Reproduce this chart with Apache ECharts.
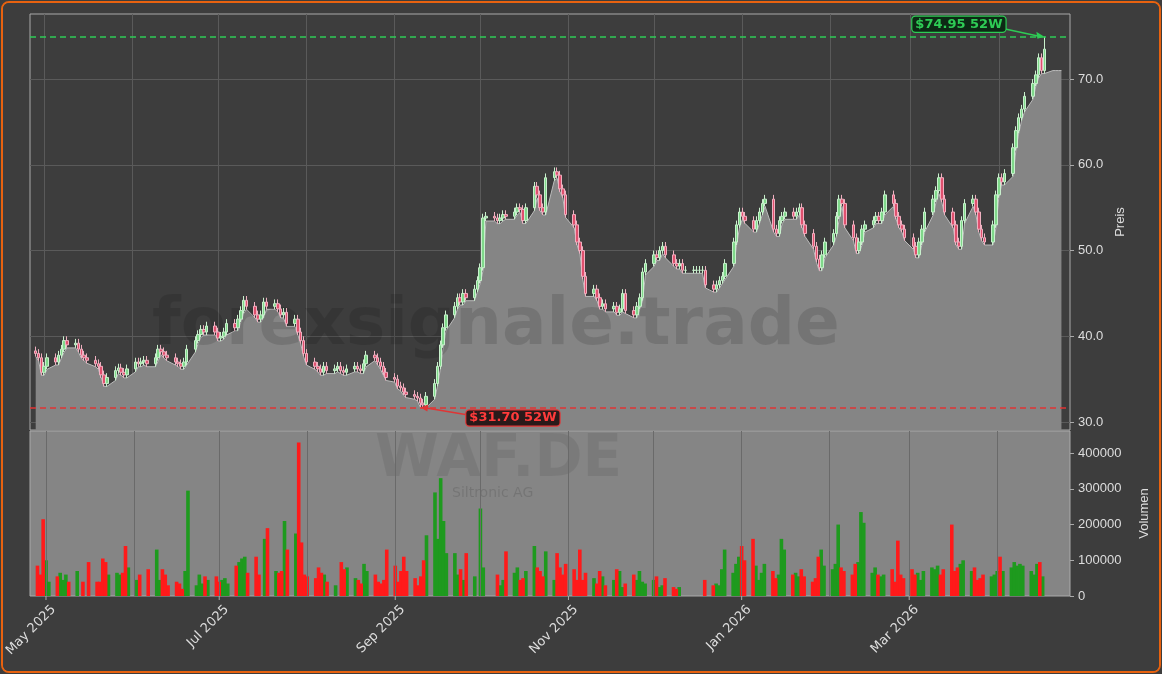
<!DOCTYPE html>
<html><head><meta charset="utf-8">
<script src="https://cdn.jsdelivr.net/npm/echarts@6/dist/echarts.min.js"></script>
<style>html,body{margin:0;padding:0;background:#3d3d3d}
#c{position:absolute;left:1px;top:1px;width:1160px;height:672px;border:2px solid #e8620f;border-radius:8px;box-sizing:border-box;overflow:hidden}
#m{position:absolute;left:-1px;top:-1px;width:1162px;height:674px}</style>
</head><body><div id="c"><div id="m"></div></div>
<script>
const startDate = '2025-04-28';
const closes = [38,37.5,35.8,36.5,37.5,37, 37.8,38.5,39.5,39,39.2, 38.5,37.8,37.5,37.2,36.8, 36.5,35.5,34.5,35.2,36,
36.3,35.8,35.5,36.2,37, 36.8,37,37.2,36.8,37.5, 38.5,38.2,37.8,37.5,37, 36.8,36.5,37,38.5,39.5,
40.2,40.8,40.5,41.2,40.5, 39.8,40,40.5,41.5,41, 42,43,44.2,43.5,42.5, 42,42.5,44,43.5,43.8,
43.2,42.5,42.8,41.5,42, 40.5,39.5,38,37,36.5, 36.2,35.8,36.5,36,36.2, 36.5,36,35.8,36.2,36.5,
36.2,36,36.8,37.8,37.5, 37,36.5,35.8,35.2,35, 34.2,34,33.5,33.2,33, 32.8,32.2,32,33,34.5,
36.5,39,41,42.5,43.5, 44.5,44,45,44.5,45.5, 46.5,48,53.8,54,53.8, 53.5,53.8,54.2,54,54.5,
55,54.8,53.5,55,57.5, 56.5,55,54.5,58.5,59.2, 58.8,57.2,56.5,54.2,53, 51,50,47,45,45.5,
44.5,43.5,43.8,43.2,43.5, 42.8,43.2,45,43,42.5, 43.5,44.5,47.5,48.5,49.5, 49.2,50,50.5,49.5,48.5,
48.2,48.5,47.7,47.7,47.7, 47.7,47.7,47.7,46,45.5, 46,46.5,47,48.5,51, 53,54.5,54,53.5,52.5,
53.5,54.5,55.5,56,52.5, 52,53.5,54,54.5,54, 54.5,55,53,52,50.5, 49,48,49.5,51,52,
54,56,55.5,53,51.5, 50,51,52.5,53,53.5, 54,53.5,54.5,56.5,55.5, 54,53,52.5,51.5,50.5,
49.5,51,52.5,54.5,56, 57,58.5,56,54.5,53, 51,50.5,53.5,55.5,56, 54.5,52.5,51.5,51,53,
56.5,58.5,58,59,62, 64,65.5,66.5,68,69.5, 70.5,72.5,71,73.5];
const volumes = [85,60,215,100,40,55,65,45,60,40,70,0,40,0,95,40,40,105,95,60,65,60,65,
140,80,45,60,0,0,75,130,45,75,60,30,40,35,20,70,295,30,60,35,55,45,55,40,45,50,35,85,95,
105,110,65,110,60,0,160,190,70,65,70,210,130,175,430,150,60,55,50,80,65,60,40,30,0,95,75,
80,50,45,35,90,70,60,40,35,45,130,85,40,70,110,70,50,30,55,100,170,290,160,330,210,120,
120,60,75,45,120,55,0,245,80,0,0,60,30,45,125,65,80,45,50,70,140,80,70,55,125,45,120,80,
60,90,75,45,130,45,65,50,35,70,55,30,45,75,70,25,35,60,45,70,40,35,45,55,25,30,50,25,20,
25,0,0,0,0,0,0,45,30,35,30,75,130,65,90,110,140,100,160,85,45,65,90,70,50,60,160,130,60,
65,55,75,55,40,50,110,130,85,75,90,200,80,70,60,90,95,235,205,65,80,60,55,60,75,40,155,
60,50,75,60,65,45,70,80,75,85,60,75,200,70,80,90,100,70,80,45,50,60,55,60,70,110,70,80,
95,85,90,85,70,60,90,95,55,130];
const tailLow = [71,71,71,71];
const priceTicks = [30,40,50,60,70];
const volTicks = [0,100000,200000,300000,400000];
const monthStarts = ['2025-05-01','2025-06-01','2025-07-01','2025-08-01','2025-09-01','2025-10-01','2025-11-01','2025-12-01','2026-01-01','2026-02-01','2026-03-01','2026-04-01'];
const labelDates = ['2025-05-01','2025-07-01','2025-09-01','2025-11-01','2026-01-01','2026-03-01'];
const monthLabels = ['May 2025','Jul 2025','Sep 2025','Nov 2025','Jan 2026','Mar 2026'];
const high52 = 74.95, low52 = 31.70;

const dates = [];
let d = new Date(startDate + 'T00:00:00Z');
while (dates.length < closes.length + tailLow.length) {
  const wd = d.getUTCDay();
  if (wd !== 0 && wd !== 6) dates.push(d.toISOString().slice(0,10));
  d = new Date(d.getTime() + 86400000);
}
const candle = [], lowLine = [], volUp = [], volDn = [];
closes.forEach((c, i) => {
  const o = i === 0 ? 38.3 : closes[i-1];
  const lo = Math.min(o, c) - 0.35, hi = Math.max(o, c) + 0.5;
  candle.push([dates[i], o, c, lo, hi]);
  lowLine.push([dates[i], lo]);
  const v = (volumes[i] || 0) * 1000;
  if (c >= o) { volUp.push([dates[i], v]); volDn.push([dates[i], null]); }
  else { volDn.push([dates[i], v]); volUp.push([dates[i], null]); }
});
candle[candle.length-1][4] = high52;
lowLine[97][1] = low52;
candle[97][3] = low52;
tailLow.forEach((v, k) => lowLine.push([dates[closes.length + k], v]));

const chart = echarts.init(document.getElementById('m'));
const xMin = '2025-04-26', xMax = '2026-04-26';
const txt = '#dddddd';
const vLines = monthStarts.map(s=>({xAxis:s}));
chart.setOption({
  backgroundColor:'#3d3d3d',
  animation:false,
  grid:[{left:28,right:94,top:12,height:416,show:true,borderColor:'#aaaaaa',borderWidth:1,backgroundColor:'transparent'},
        {left:28,right:94,top:429,height:165,show:true,borderColor:'#aaaaaa',borderWidth:1,backgroundColor:'#858585'}],
  xAxis:[{gridIndex:0, type:'time', min:xMin, max:xMax, axisLabel:{show:false}, axisTick:{show:false}, axisLine:{show:false}, splitLine:{show:false}},
         {gridIndex:1, type:'time', min:xMin, max:xMax, axisLine:{show:false}, splitLine:{show:false},
          axisLabel:{show:false}, axisTick:{show:false}}],
  yAxis:[{gridIndex:0, position:'right', min:29.07, max:77.6, name:'Preis', nameLocation:'middle', nameGap:42, nameRotate:90,
          nameTextStyle:{color:txt, fontSize:13},
          axisLabel:{color:txt, fontSize:13, customValues:priceTicks, formatter:v=>v.toFixed(1)},
          axisTick:{show:true, customValues:priceTicks, length:4, lineStyle:{color:'#aaa'}},
          axisLine:{show:false}, splitLine:{show:false}},
         {gridIndex:1, position:'right', min:0, max:462000, name:'Volumen', nameLocation:'middle', nameGap:68, nameRotate:90,
          nameTextStyle:{color:txt, fontSize:13},
          axisLabel:{color:txt, fontSize:13, customValues:volTicks, formatter:v=>String(v)},
          axisTick:{show:true, customValues:volTicks, length:4, lineStyle:{color:'#aaa'}},
          axisLine:{show:false}, splitLine:{show:false}}],
  series:[
    {type:'line', xAxisIndex:0, yAxisIndex:0, data:lowLine, symbol:'none', z:1,
     lineStyle:{color:'#bbbbbb', width:1}, areaStyle:{color:'#858585', opacity:1, origin:'start'},
     markLine:{silent:true, symbol:'none', label:{show:false}, z:0, lineStyle:{color:'#5a5a5a', type:'solid', width:1},
       data:priceTicks.map(v=>({yAxis:v})).concat(vLines)}},
    {type:'candlestick', xAxisIndex:0, yAxisIndex:0, data:candle, barWidth:3, z:3,
     itemStyle:{color:'#7fd88a', color0:'#e0506e', borderColor:'#c8f0cc', borderColor0:'#f0b0c0', borderWidth:1},
     markLine:{silent:true, symbol:'none', label:{show:false},
       data:[{yAxis:high52, lineStyle:{color:'#2ecc55', type:[6,4], width:1.5}},
             {yAxis:low52, lineStyle:{color:'#e03535', type:[6,4], width:1.5}}]}},
    {type:'bar', xAxisIndex:1, yAxisIndex:1, data:volUp, stack:'v', barWidth:3.6, itemStyle:{color:'#1e9a1e'},
     markLine:{silent:true, symbol:'none', label:{show:false}, lineStyle:{color:'#6a6a6a', type:'solid', width:1}, data:vLines}},
    {type:'bar', xAxisIndex:1, yAxisIndex:1, data:volDn, stack:'v', barWidth:3.6, itemStyle:{color:'#ff1a1a'}}
  ]
});
const ph = chart.convertToPixel({gridIndex:0}, [dates[closes.length-1], high52]);
const pl = chart.convertToPixel({gridIndex:0}, [dates[97], low52]);
const g = [
  {id:'w1', type:'text', x:150, y:292, z:2, silent:true, style:{text:'forexsignale.trade', font:'bold 66px "DejaVu Sans"', fill:'rgba(0,0,0,0.12)'}},
  {id:'w2', type:'text', x:373, y:430, z:2, silent:true, style:{text:'WAF.DE', font:'bold 58px "DejaVu Sans"', fill:'rgba(0,0,0,0.08)'}},
  {id:'w3', type:'text', x:450, y:484, z:2, silent:true, style:{text:'Siltronic AG', font:'14px "DejaVu Sans"', fill:'rgba(0,0,0,0.12)'}},
  {id:'a1', type:'line', z:50, shape:{x1:ph[0]-45, y1:ph[1]-9, x2:ph[0]-3, y2:ph[1]}, style:{stroke:'#2ecc55', lineWidth:1.5}},
  {id:'a2', type:'polygon', z:50, shape:{points:[[ph[0],ph[1]],[ph[0]-8,ph[1]-5],[ph[0]-7,ph[1]+2]]}, style:{fill:'#2ecc55'}},
  {id:'a3', type:'text', z:51, x:ph[0]-132, y:ph[1]-20, style:{text:'$74.95 52W', font:'bold 13px "DejaVu Sans"', fill:'#2ecc55',
     backgroundColor:'#0d2a15', borderColor:'#2ecc55', borderWidth:1.2, borderRadius:3, padding:[1,3]}},
  {id:'b1', type:'line', z:50, shape:{x1:pl[0]+45, y1:pl[1]+7, x2:pl[0]+3, y2:pl[1]}, style:{stroke:'#e03535', lineWidth:1.5}},
  {id:'b2', type:'polygon', z:50, shape:{points:[[pl[0],pl[1]],[pl[0]+8,pl[1]-3],[pl[0]+7,pl[1]+4]]}, style:{fill:'#e03535'}},
  {id:'b3', type:'text', z:51, x:pl[0]+46, y:pl[1]+3, style:{text:'$31.70 52W', font:'bold 13px "DejaVu Sans"', fill:'#ff3b3b',
     backgroundColor:'#2a1a1a', borderColor:'#e03535', borderWidth:1.2, borderRadius:3, padding:[1,3]}}
];
labelDates.forEach((s, k) => {
  const p = chart.convertToPixel({gridIndex:1}, [s, 0]);
  g.push({id:'t'+k, type:'line', shape:{x1:p[0], y1:594, x2:p[0], y2:598}, style:{stroke:'#aaa', lineWidth:1}});
  g.push({id:'l'+k, type:'text', x:p[0]+3, y:601, rotation:Math.PI/4,
    style:{text:monthLabels[k], font:'13px "DejaVu Sans"', fill:txt, align:'right', verticalAlign:'top'}});
});
chart.setOption({graphic:g});
</script></body></html>
